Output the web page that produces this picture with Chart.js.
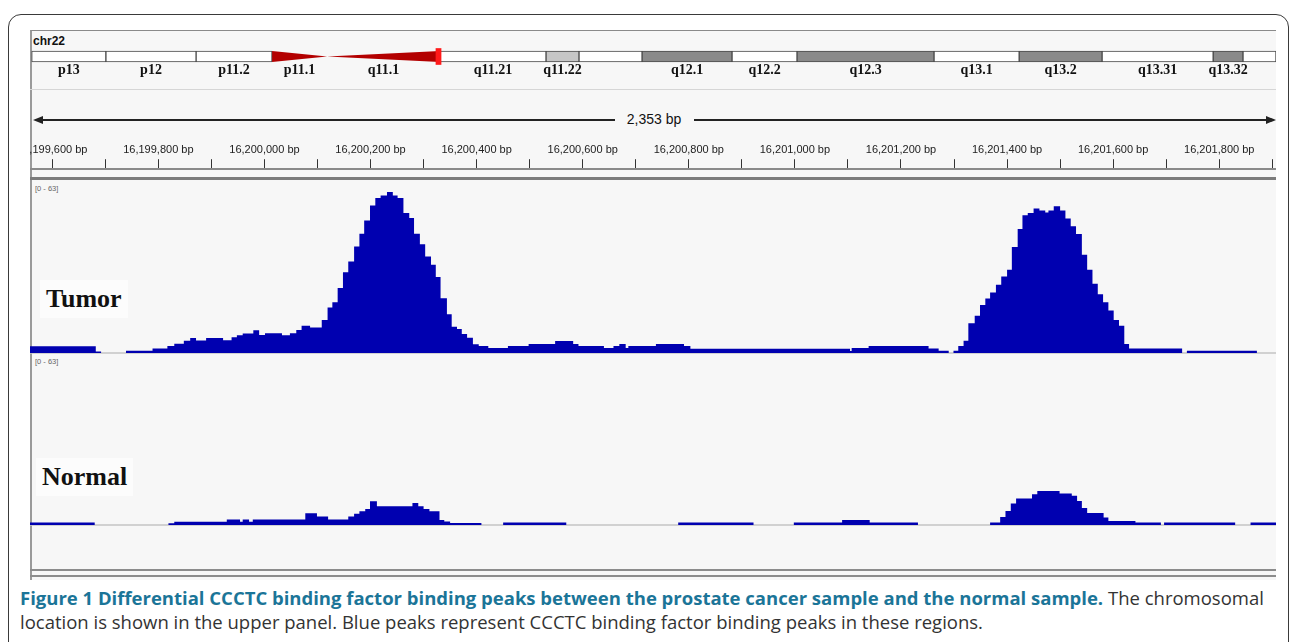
<!DOCTYPE html>
<html>
<head>
<meta charset="utf-8">
<script src="https://cdn.jsdelivr.net/npm/chart.js@4.4.1/dist/chart.umd.min.js"></script>
<style>
  html, body { margin: 0; padding: 0; background: #fff; }
  body { width: 1290px; height: 642px; position: relative; overflow: hidden; font-family: "Liberation Sans", Arial, sans-serif; }
  .abs { position: absolute; }
  #frame { left: 8px; top: 14px; width: 1281px; height: 700px; border: 1.5px solid #3a3a3a; border-radius: 13px; box-sizing: border-box; }
  #panel { left: 30px; top: 30px; width: 1246px; height: 550px; background: #f7f7f7; border-top: 1.5px solid #8a8a8a; border-left: 2px solid #9a9a9a; box-sizing: border-box; }
  .hline { left: 30px; width: 1246px; }
  #chr { left: 33px; top: 34px; font-weight: bold; font-size: 12px; color: #111; }
  #span { left: 33px; top: 113px; width: 1243px; height: 14px; }
  #span .bar { position: absolute; top: 6px; height: 1.5px; background: #222; }
  #span .txt { position: absolute; left: 581px; width: 80px; top: -2px; text-align: center; font-size: 14px; color: #111; }
  .arrow { position: absolute; top: 3px; width: 0; height: 0; border-top: 4px solid transparent; border-bottom: 4px solid transparent; }
  .range { font-size: 7.5px; color: #666; left: 35px; }
  .trackname { font-family: "Liberation Serif", "Times New Roman", serif; font-weight: bold; font-size: 26px; color: #111; background: #fcfcfc; padding: 4px 6px; }
  canvas { position: absolute; }
  #caption { left: 20px; top: 586px; width: 1268px; font-family: "Open Sans", sans-serif; font-size: 18.5px; line-height: 24px; color: #333; }
  #caption b { color: #1b7598; }
</style>
</head>
<body>
<div id="frame" class="abs"></div>
<div id="panel" class="abs"></div>
<div id="chr" class="abs">chr22</div>
<div class="abs hline" style="top:89px;height:1px;background:#d6d6d6"></div>
<div id="span" class="abs">
  <div class="arrow" style="left:0;border-right:10px solid #222"></div>
  <div class="bar" style="left:8px;width:574px"></div>
  <div class="txt">2,353 bp</div>
  <div class="bar" style="left:661px;width:574px"></div>
  <div class="arrow" style="left:1233px;border-left:10px solid #222"></div>
</div>
<div class="abs hline" style="top:177px;height:3px;background:#7c7c7c"></div>
<div class="abs range" style="top:184px">[0 - 63]</div>
<div class="abs range" style="top:357px">[0 - 63]</div>
<div class="abs trackname" style="left:40px;top:280px">Tumor</div>
<div class="abs trackname" style="left:36px;top:458px">Normal</div>
<div class="abs hline" style="top:569px;height:2px;background:#8c8c8c"></div>
<div class="abs hline" style="top:575px;height:2px;background:#8c8c8c"></div>

<canvas id="ideogram" width="1246" height="40" style="left:30px;top:40px"></canvas>
<canvas id="ruler" width="1246" height="60" style="left:30px;top:140px"></canvas>
<canvas id="tumor" width="1246" height="163" style="left:30px;top:192px"></canvas>
<canvas id="normal" width="1246" height="163" style="left:30px;top:364px"></canvas>

<div id="caption" class="abs"><b>Figure 1 Differential CCCTC binding factor binding peaks between the prostate cancer sample and the normal sample.</b> The chromosomal location is shown in the upper panel. Blue peaks represent CCCTC binding factor binding peaks in these regions.</div>

<script>
// chr22 ideogram bands (Mb)
const bandNames = ["p13", "p12", "p11.2", "p11.1", "q11.1", "q11.21", "q11.22", "", "q12.1", "q12.2", "q12.3", "q13.1", "q13.2", "q13.31", "q13.32", ""];
const bandStart = [0.0, 3.06, 6.78, 9.91, 12.18, 16.84, 21.21, 22.57, 25.17, 28.88, 31.56, 37.21, 40.72, 44.14, 48.72, 49.95];
const bandEnd = [3.06, 6.78, 9.91, 12.18, 16.84, 21.21, 22.57, 25.17, 28.88, 31.56, 37.21, 40.72, 44.14, 48.72, 49.95, 51.31];
const bandStain = ["gneg", "gneg", "gneg", "acen", "acen", "gneg", "gpos25", "gneg", "gpos50", "gneg", "gpos50", "gneg", "gpos50", "gneg", "gpos50", "gneg"];
const chromLength = 51.31;
const viewMarker = [16.67, 16.88];

// visible window (bp)
const viewStart = 16199558;
const viewEnd = 16201907;

// coverage steps: each value holds from its start to the next start
const tumorStart = [16199558, 16199682, 16199692, 16199739, 16199789, 16199817, 16199830, 16199848, 16199860, 16199871,
  16199890, 16199922, 16199938, 16199948, 16199959, 16199979, 16199990, 16200001, 16200033, 16200048,
  16200060, 16200070, 16200086, 16200108, 16200119, 16200128, 16200138, 16200148, 16200158, 16200169,
  16200179, 16200188, 16200199, 16200209, 16200219, 16200231, 16200242, 16200251, 16200262, 16200273,
  16200282, 16200293, 16200303, 16200314, 16200323, 16200332, 16200344, 16200353, 16200363, 16200372,
  16200382, 16200393, 16200404, 16200422, 16200459, 16200498, 16200548, 16200582, 16200592, 16200640,
  16200658, 16200669, 16200681, 16200686, 16200738, 16200791, 16200803, 16201104, 16201107, 16201139,
  16201252, 16201271, 16201290, 16201299, 16201308, 16201318, 16201327, 16201339, 16201349, 16201359,
  16201368, 16201379, 16201389, 16201400, 16201409, 16201420, 16201429, 16201439, 16201450, 16201461,
  16201472, 16201478, 16201488, 16201500, 16201510, 16201520, 16201530, 16201541, 16201551, 16201561,
  16201571, 16201581, 16201591, 16201601, 16201611, 16201621, 16201630, 16201730, 16201739, 16201871];
const tumorValue = [2.6, 0.6, 0, 0.9, 1.8, 2.7, 3.6, 4.8, 5.9, 4.9,
  5.9, 5, 6.2, 6.9, 7.6, 8.9, 7, 7.7, 6.9, 7.7,
  9, 10.7, 10, 12.9, 17.8, 19.9, 25.4, 31.6, 35.8, 41.7,
  46.7, 51.8, 57.7, 60.7, 61.6, 63, 61.6, 60.7, 54.8, 52.8,
  46.7, 42.6, 37.8, 34.5, 29.7, 21.4, 15.2, 10.3, 9.4, 7.4,
  6, 3.4, 2.7, 2, 2.7, 3.5, 4.7, 3.5, 2.7, 2,
  2.7, 3.5, 2, 2.7, 3.5, 2.7, 1.7, 0.8, 2, 2.7,
  1.8, 0.9, 0, 0.9, 2.7, 4.8, 11.6, 14.6, 18.8, 21.3,
  23.7, 26.7, 29.9, 32.6, 41.5, 48.5, 53.9, 54.8, 56.5, 55.8,
  55, 55.8, 57.4, 55.8, 52.6, 49.6, 46.6, 38.4, 32.6, 27.1,
  23, 19.9, 16.6, 12.9, 10.7, 3.5, 1.8, 0, 0.9, 0];

const normalStart = [16199558, 16199680, 16199819, 16199830, 16199929, 16199954, 16199959, 16199971, 16199978, 16200077,
  16200099, 16200120, 16200158, 16200169, 16200179, 16200190, 16200199, 16200212, 16200279, 16200290,
  16200300, 16200311, 16200330, 16200339, 16200350, 16200409, 16200450, 16200569, 16200780, 16200922,
  16200998, 16201089, 16201141, 16201232, 16201368, 16201387, 16201397, 16201407, 16201417, 16201447,
  16201457, 16201499, 16201522, 16201532, 16201541, 16201551, 16201582, 16201591, 16201642, 16201690,
  16201696, 16201830, 16201859, 16201907];
const normalValue = [1, 0, 0.7, 1.3, 2.2, 1.3, 2.2, 1.3, 2.2, 4.6,
  3.3, 2.2, 3.3, 4.4, 5.4, 6.3, 9.3, 7.3, 8.6, 7.3,
  6.3, 5.4, 2, 1.4, 0.8, 0, 1, 0, 1, 0,
  1, 2, 1, 0, 1, 3.1, 5.5, 8.4, 10.4, 12,
  13.3, 12.3, 11.4, 9.4, 6.7, 4.7, 2.9, 1.6, 1, 0,
  1, 0, 1, 1];

const trackMax = 63;
const stainColor = { gneg: "#ffffff", gpos25: "#c6c6c6", gpos50: "#8a8a8a" };

const hidden = { display: false };
const noPlugins = { legend: { display: false }, tooltip: { enabled: false } };

// ideogram
const bandIdx = bandStain.map((s, i) => i).filter((i) => bandStain[i] !== "acen");
const cen = bandStain.map((s, i) => i).filter((i) => bandStain[i] === "acen");
const cenPts = [bandStart[cen[0]], bandEnd[cen[0]], bandEnd[cen[1]]];

const bandLabelPlugin = {
  id: "bandLabels",
  afterDatasetsDraw(chart) {
    const { ctx, scales } = chart;
    const y = scales.y.getPixelForValue(0) + 14;
    ctx.save();
    ctx.font = "bold 14px 'Liberation Serif', serif";
    ctx.fillStyle = "#111";
    ctx.textAlign = "center";
    ctx.textBaseline = "middle";
    bandNames.forEach((name, i) => {
      if (!name) return;
      ctx.fillText(name, scales.x.getPixelForValue((bandStart[i] + bandEnd[i]) / 2), y);
    });
    ctx.restore();
  },
};

new Chart(document.getElementById("ideogram"), {
  type: "bar",
  data: {
    datasets: [
      {
        indexAxis: "y",
        grouped: false,
        data: [{ x: viewMarker, y: 0 }],
        backgroundColor: "#ff1a1a",
        borderWidth: 0,
        barThickness: 16,
      },
      {
        indexAxis: "y",
        grouped: false,
        data: bandIdx.map((i) => ({ x: [bandStart[i], bandEnd[i]], y: 0 })),
        backgroundColor: bandIdx.map((i) => stainColor[bandStain[i]]),
        borderColor: "#4a4a4a",
        borderWidth: 1,
        borderSkipped: false,
        barThickness: 11,
      },
      {
        type: "line",
        data: cenPts.map((x, i) => ({ x, y: i === 1 ? 0 : 5.5 })),
        borderWidth: 0,
        pointRadius: 0,
        fill: false,
      },
      {
        type: "line",
        data: cenPts.map((x, i) => ({ x, y: i === 1 ? 0 : -5.5 })),
        borderWidth: 0,
        pointRadius: 0,
        backgroundColor: "#b30000",
        fill: "-1",
      },
    ],
  },
  options: {
    responsive: false,
    animation: false,
    events: [],
    layout: { autoPadding: false, padding: 0 },
    plugins: noPlugins,
    scales: {
      x: { type: "linear", min: -0.07, max: chromLength, offset: false, display: false },
      y: { type: "linear", min: -23.5, max: 16.5, offset: false, display: false },
    },
  },
  plugins: [bandLabelPlugin],
});

// ruler
new Chart(document.getElementById("ruler"), {
  type: "line",
  data: { datasets: [{ data: [] }] },
  options: {
    responsive: false,
    animation: false,
    events: [],
    layout: { autoPadding: false, padding: 0 },
    plugins: noPlugins,
    scales: {
      x: {
        type: "linear",
        position: "top",
        min: viewStart,
        max: viewEnd,
        // keep the same bp->pixel mapping as the tracks; edge labels get clipped like in IGV
        afterFit: (scale) => {
          scale.paddingLeft = 0;
          scale.paddingRight = 0;
        },
        border: { color: "#8a8a8a", width: 2 },
        grid: { drawOnChartArea: false, tickLength: 10, color: "#333", lineWidth: 1 },
        ticks: {
          stepSize: 100,
          includeBounds: false,
          autoSkip: false,
          maxRotation: 0,
          padding: 3,
          color: "#222",
          font: { family: "'Liberation Sans', Arial, sans-serif", size: 11 },
          callback: (v) => (v % 200 === 0 ? v.toLocaleString("en-US") + " bp" : ""),
        },
      },
      y: hidden,
    },
  },
});

// coverage tracks
function trackChart(id, starts, values) {
  return new Chart(document.getElementById(id), {
    type: "line",
    data: {
      datasets: [
        {
          data: starts.map((x, i) => ({ x, y: values[i] })),
          stepped: true,
          fill: "origin",
          backgroundColor: "#0000b0",
          borderWidth: 0,
          pointRadius: 0,
        },
        {
          data: [{ x: viewStart, y: 0 }, { x: viewEnd, y: 0 }],
          borderColor: "#c4c4c4",
          borderWidth: 1.5,
          pointRadius: 0,
          fill: false,
        },
      ],
    },
    options: {
      responsive: false,
      animation: false,
      events: [],
      layout: { autoPadding: false, padding: 0 },
      plugins: noPlugins,
      scales: {
        x: { type: "linear", min: viewStart, max: viewEnd, display: false },
        y: { type: "linear", min: -0.78, max: trackMax, display: false },
      },
    },
  });
}

trackChart("tumor", tumorStart, tumorValue);
trackChart("normal", normalStart, normalValue);
</script>
</body>
</html>
